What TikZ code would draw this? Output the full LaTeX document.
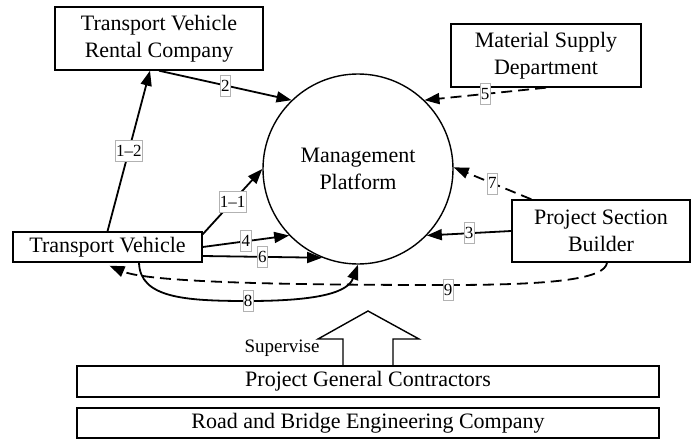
\documentclass[tikz,border=0pt]{standalone}
\usepackage{fontspec}
\setmainfont{Liberation Serif}
\usetikzlibrary{arrows.meta}

\begin{document}
\begin{tikzpicture}[x=1pt,y=-1pt,
  box/.style={draw, line width=1.4pt, align=center, inner sep=0pt,
    font=\fontsize{22}{27}\selectfont},
  hub/.style={draw, circle, line width=1.4pt, minimum size=190pt, inner sep=0pt,
    align=center, font=\fontsize{22}{27}\selectfont},
  flow/.style={line width=1.8pt, -{Triangle[length=15pt,width=11pt]}},
  dflow/.style={flow, dash pattern=on 11pt off 6pt},
  lbl/.style={solid, draw=black!30, line width=0.5pt, fill=white, inner xsep=1pt,
    inner ysep=0pt, minimum height=21pt, font=\fontsize{17}{17}\selectfont}
]
\useasboundingbox (0,0) rectangle (691,439);

% participants
\node[box, minimum width=208pt, minimum height=63pt] (rental) at (159,38.5) {Transport Vehicle\\Rental Company};
\node[box, minimum width=190pt, minimum height=63pt] (supply) at (546,55.5) {Material Supply\\Department};
\node[hub] (mp) at (358,169) {Management\\Platform};
\node[box, minimum width=189pt, minimum height=30pt] (tv) at (107.5,247) {Transport Vehicle};
\node[box, minimum width=178pt, minimum height=62pt] (psb) at (601,231) {Project Section\\Builder};
\node[box, minimum width=582pt, minimum height=31pt] (pgc) at (368,381.5) {Project General Contractors};
\node[box, minimum width=582pt, minimum height=30pt] (rbe) at (368,423) {Road and Bridge Engineering Company};

% information flows
\draw[flow] (tv.north) -- node[lbl]{1--2} ([xshift=-9pt]rental.south);
\draw[flow] ([yshift=-3pt]tv.north east) -- node[lbl]{1--1} (mp.180);
\draw[flow] (rental.south) -- node[lbl]{2} (mp.134);
\draw[flow] (tv.east) -- node[lbl]{4} (mp.224);
\draw[flow] ([yshift=-9pt]tv.east) -- node[lbl]{6} (mp.248);
\draw[flow] (psb.west) -- node[lbl]{3} (mp.316);
\draw[dflow] ([xshift=20pt]psb.north west) -- node[lbl]{7} (mp.1);
\draw[dflow] (supply.south) -- node[lbl]{5} (mp.46);
\draw[flow] ([xshift=31.5pt]tv.south) .. controls (140,298) and (185,301) .. (248,301)
  node[lbl]{8} .. controls (320,301) and (348,292) .. (mp.270);
\draw[dflow] ([xshift=6pt]psb.south) .. controls (605,278) and (560,285) .. (448,285)
  node[lbl,yshift=-5pt]{9} .. controls (300,285) and (150,283) .. ([xshift=2pt,yshift=-3pt]tv.south);

% supervision arrow
\draw[line width=1.4pt, line join=miter] (343,366) -- (343,339) -- (318,339) -- (368,311)
  -- (419,339) -- (393,339) -- (393,366);
\node[font=\fontsize{19}{20}\selectfont] (sup) at (282,348) {Supervise};
\end{tikzpicture}
\end{document}
